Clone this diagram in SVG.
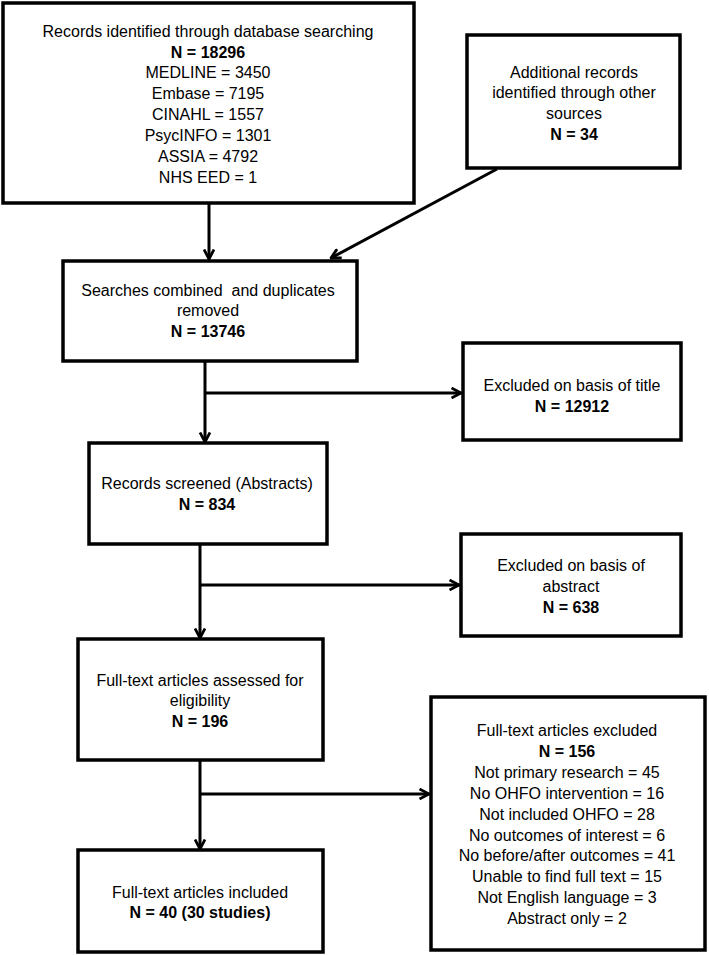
<svg xmlns="http://www.w3.org/2000/svg" width="709" height="955" viewBox="0 0 709 955">
<style>
.box{fill:#fff;stroke:#000;stroke-width:3.5}
.t{font-family:"Liberation Sans",Arial,sans-serif;font-size:16px;fill:#000;text-anchor:middle}
.b{font-weight:bold}
.c{fill:none;stroke:#000;stroke-width:3}
</style>
<defs>
<marker id="ah" viewBox="0 0 12 12" refX="10.5" refY="6" markerWidth="12" markerHeight="12" markerUnits="userSpaceOnUse" orient="auto">
<path d="M1,1 L10.5,6 L1,11" fill="none" stroke="#000" stroke-width="2.8"/>
</marker>
</defs>
<rect width="709" height="955" fill="#fff"/>
<g id="connectors">
<path class="c" d="M209,203 V259" marker-end="url(#ah)"/>
<path class="c" d="M497,169 L331,258" marker-end="url(#ah)"/>
<path class="c" d="M205,361 V442" marker-end="url(#ah)"/>
<path class="c" d="M205,393 H461" marker-end="url(#ah)"/>
<path class="c" d="M200,544 V638" marker-end="url(#ah)"/>
<path class="c" d="M200,585 H459" marker-end="url(#ah)"/>
<path class="c" d="M200,760 V849" marker-end="url(#ah)"/>
<path class="c" d="M200,794 H429" marker-end="url(#ah)"/>
</g>
<g id="n1">
<rect class="box" x="3" y="3" width="411" height="200"/>
<text class="t" x="208" y="37">Records identified through database searching</text>
<text class="t b" x="208" y="58">N = 18296</text>
<text class="t" x="208" y="78">MEDLINE = 3450</text>
<text class="t" x="208" y="99">Embase = 7195</text>
<text class="t" x="208" y="120">CINAHL = 1557</text>
<text class="t" x="208" y="141">PsycINFO = 1301</text>
<text class="t" x="208" y="162">ASSIA = 4792</text>
<text class="t" x="208" y="183">NHS EED = 1</text>
</g>
<g id="n2">
<rect class="box" x="467" y="35" width="213" height="133"/>
<text class="t" x="574" y="78">Additional records</text>
<text class="t" x="574" y="98">identified through other</text>
<text class="t" x="574" y="119">sources</text>
<text class="t b" x="574" y="140">N = 34</text>
</g>
<g id="n3">
<rect class="box" x="63" y="261" width="294" height="100"/>
<text class="t" x="208" y="296" xml:space="preserve">Searches combined  and duplicates</text>
<text class="t" x="208" y="316">removed</text>
<text class="t b" x="208" y="337">N = 13746</text>
</g>
<g id="n4">
<rect class="box" x="463" y="343" width="218" height="97"/>
<text class="t" x="572" y="391">Excluded on basis of title</text>
<text class="t b" x="572" y="412">N = 12912</text>
</g>
<g id="n5">
<rect class="box" x="89" y="443" width="238" height="101"/>
<text class="t" x="207" y="489">Records screened (Abstracts)</text>
<text class="t b" x="207" y="510">N = 834</text>
</g>
<g id="n6">
<rect class="box" x="461" y="534" width="220" height="102"/>
<text class="t" x="571" y="571">Excluded on basis of</text>
<text class="t" x="571" y="592">abstract</text>
<text class="t b" x="571" y="613">N = 638</text>
</g>
<g id="n7">
<rect class="box" x="78" y="639" width="245" height="121"/>
<text class="t" x="200" y="686">Full-text articles assessed for</text>
<text class="t" x="200" y="706">eligibility</text>
<text class="t b" x="200" y="727">N = 196</text>
</g>
<g id="n8">
<rect class="box" x="78" y="850" width="245" height="102"/>
<text class="t" x="200" y="898">Full-text articles included</text>
<text class="t b" x="200" y="918">N = 40 (30 studies)</text>
</g>
<g id="n9">
<rect class="box" x="431" y="697" width="274" height="253"/>
<text class="t" x="567" y="736">Full-text articles excluded</text>
<text class="t b" x="567" y="757">N = 156</text>
<text class="t" x="567" y="778">Not primary research = 45</text>
<text class="t" x="567" y="799">No OHFO intervention = 16</text>
<text class="t" x="567" y="820">Not included OHFO = 28</text>
<text class="t" x="567" y="841">No outcomes of interest = 6</text>
<text class="t" x="567" y="861">No before/after outcomes = 41</text>
<text class="t" x="567" y="882">Unable to find full text = 15</text>
<text class="t" x="567" y="903">Not English language = 3</text>
<text class="t" x="567" y="924">Abstract only = 2</text>
</g>
</svg>
